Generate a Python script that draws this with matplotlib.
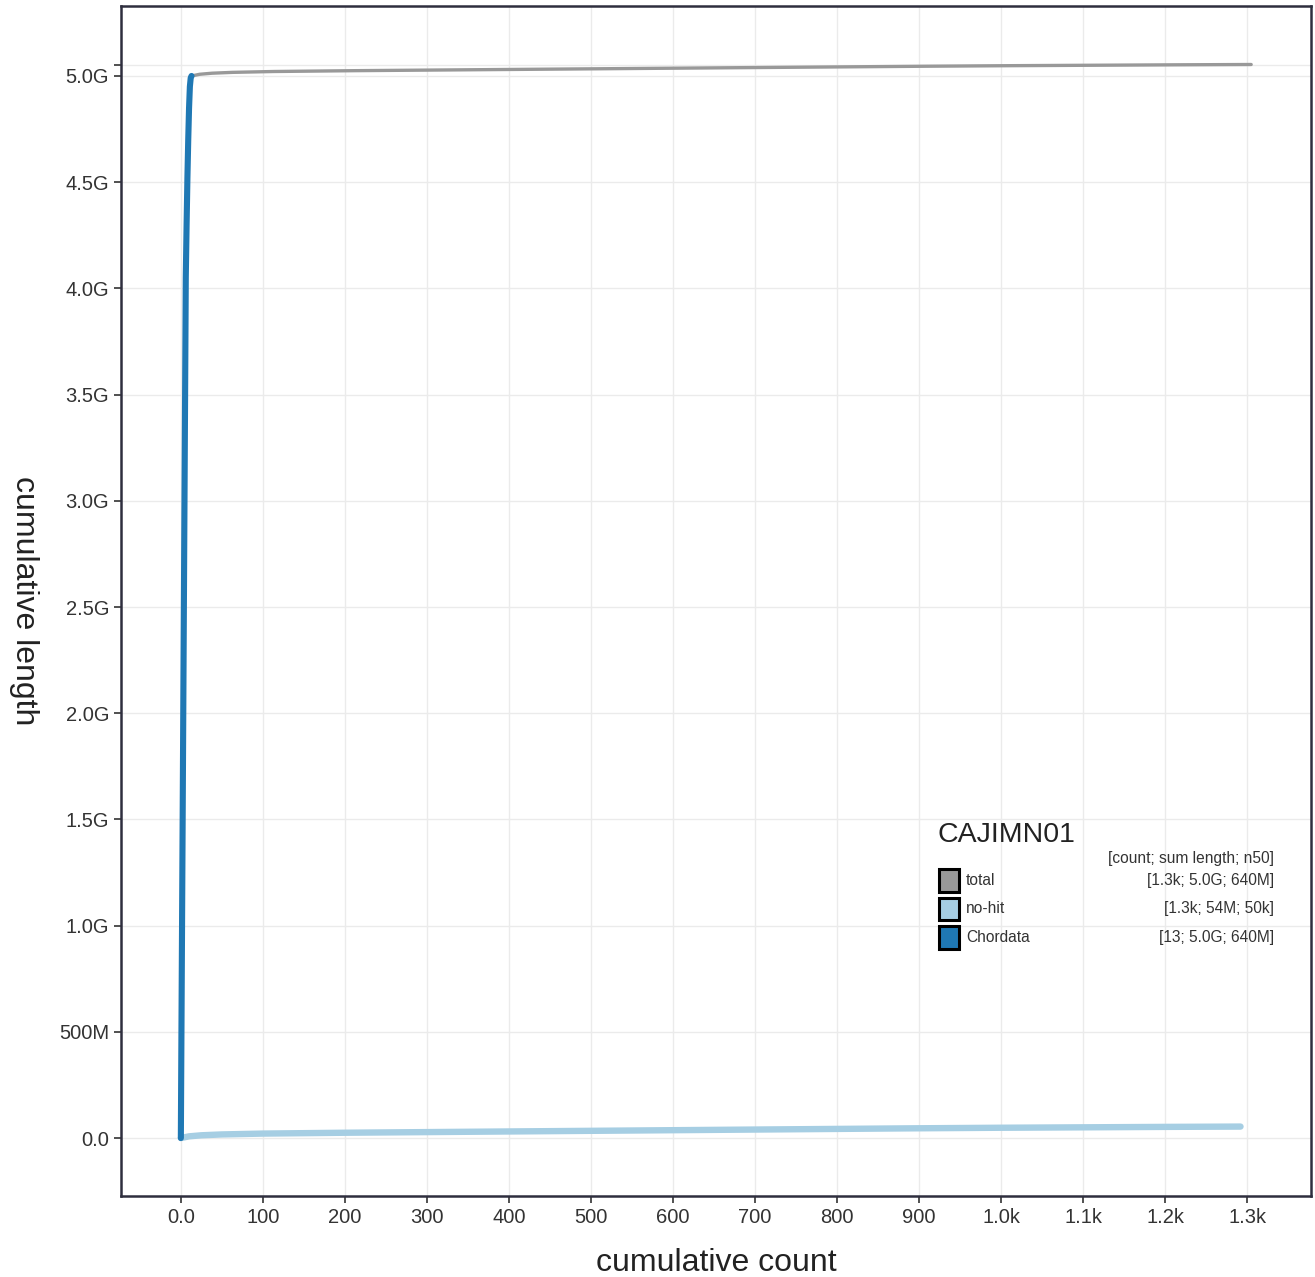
import matplotlib
matplotlib.use("Agg")
import matplotlib.pyplot as plt
from matplotlib.patches import Rectangle

GREY = "#999999"; LIGHT = "#a6cee3"; BLUE = "#1f78b4"; INK = "#222222"; AXC = "#2e2e3e"
plt.rcParams["font.family"] = ["Liberation Sans", "DejaVu Sans"]

# cumulative curves (count, length in Mb)
chord_count = [0, 1, 2, 3, 4, 5, 6, 7, 8, 9, 10, 11, 12, 13]
chord_len = [0, 690, 1370, 2040, 2710, 3380, 4050, 4300, 4520, 4700, 4850, 4950, 4990, 5000]

nohit_count = [0, 10, 25, 50, 100, 200, 300, 400, 500, 600, 700, 800, 900, 1000, 1100, 1200, 1292]
nohit_len = [0, 8, 13, 17, 21, 25, 28, 31, 34, 37, 40, 43, 46, 48.5, 50.5, 52.5, 54]

total_count = [13, 23, 38, 63, 113, 213, 313, 413, 513, 613, 713, 813, 913, 1013, 1113, 1213, 1305]
total_len = [5000, 5008, 5013, 5017, 5021, 5025, 5028, 5031, 5034, 5037, 5040, 5043, 5046, 5048.5, 5050.5, 5052.5, 5054]

legend_names = ["total", "no-hit", "Chordata"]
legend_stats = ["[1.3k; 5.0G; 640M]", "[1.3k; 54M; 50k]", "[13; 5.0G; 640M]"]
legend_cols = [GREY, LIGHT, BLUE]

x_ticks = [0, 100, 200, 300, 400, 500, 600, 700, 800, 900, 1000, 1100, 1200, 1300]
x_labels = ["0.0", "100", "200", "300", "400", "500", "600", "700", "800", "900",
            "1.0k", "1.1k", "1.2k", "1.3k"]
y_ticks = [0, 500, 1000, 1500, 2000, 2500, 3000, 3500, 4000, 4500, 5000, 5054]
y_labels = ["0.0", "500M", "1.0G", "1.5G", "2.0G", "2.5G", "3.0G", "3.5G", "4.0G",
            "4.5G", "5.0G", ""]

fig = plt.figure(figsize=(13.15, 12.77), dpi=100)
ax = fig.add_axes([0.092, 0.0634, 0.905, 0.932])

ax.plot(total_count, total_len, color=GREY, lw=2.4, solid_capstyle="round", zorder=3)
ax.plot(nohit_count, nohit_len, color=LIGHT, lw=4.6, solid_capstyle="round", zorder=4)
ax.plot(chord_count, chord_len, color=BLUE, lw=4.4, solid_capstyle="round", zorder=5)

ax.set_xlim(-73, 1378)
ax.set_ylim(-273, 5330)
ax.set_xticks(x_ticks); ax.set_xticklabels(x_labels)
ax.set_yticks(y_ticks); ax.set_yticklabels(y_labels)
ax.tick_params(labelsize=14.5, colors="#333333", length=5, width=1.2, direction="out")
ax.grid(True, color="#ebebeb", lw=1)
ax.set_axisbelow(True)
for s in ax.spines.values():
    s.set_color(AXC); s.set_linewidth(1.8)

ax.set_xlabel("cumulative count", fontsize=23, color=INK, labelpad=15)
ax.set_ylabel("cumulative length", fontsize=23, color=INK, rotation=-90, labelpad=36)

# legend drawn by hand in axes-fraction coordinates
tr = ax.transAxes
ax.text(0.686, 0.303, "CAJIMN01", transform=tr, fontsize=20.5, color=INK, va="center")
ax.text(0.969, 0.284, "[count; sum length; n50]", transform=tr, fontsize=11.2,
        color="#333333", ha="right", va="center")
for i, (nm, st, c) in enumerate(zip(legend_names, legend_stats, legend_cols)):
    y = 0.265 - i * 0.0238
    ax.add_patch(Rectangle((0.687, y - 0.0095), 0.0175, 0.019, transform=tr,
                           fc=c, ec="black", lw=2.2, zorder=6))
    ax.text(0.710, y, nm, transform=tr, fontsize=11.2, color="#333333", va="center")
    ax.text(0.969, y, st, transform=tr, fontsize=11.2, color="#333333", ha="right",
            va="center")

fig.savefig("out.png", dpi=100, facecolor="white")
